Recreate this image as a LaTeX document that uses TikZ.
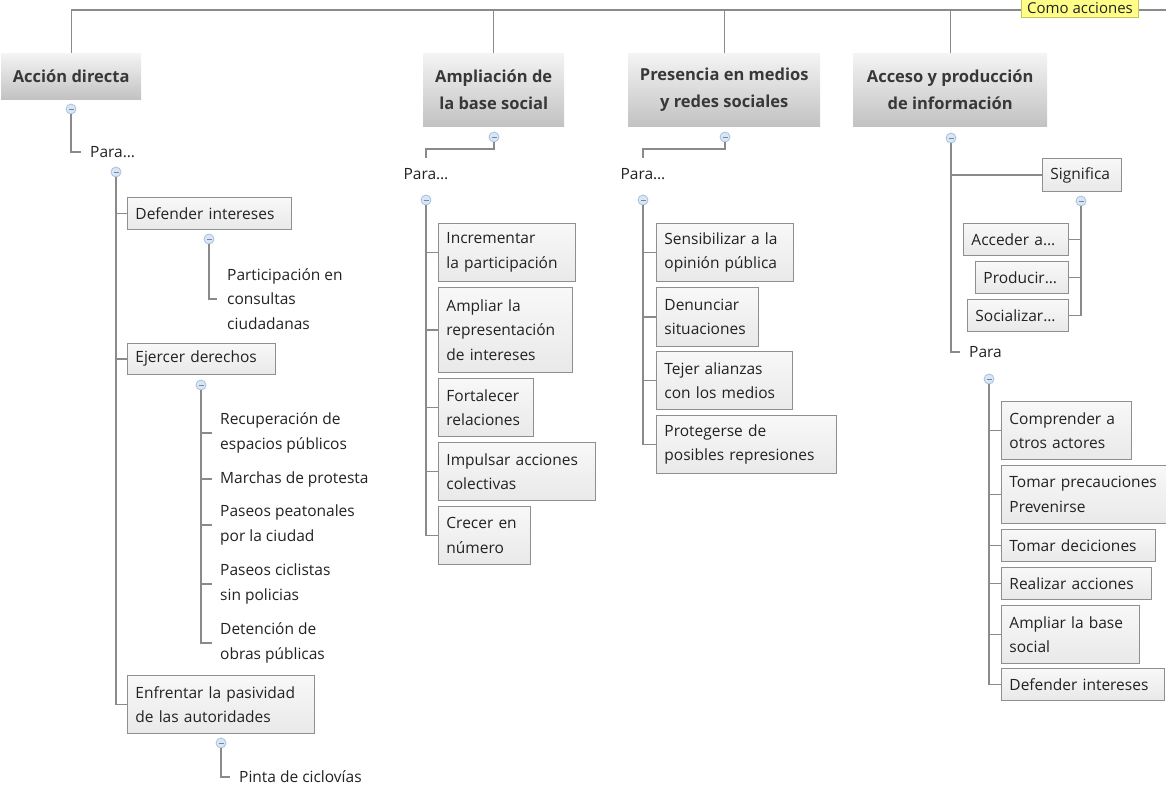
\documentclass[tikz,border=0pt]{standalone}
\usepackage{fontspec}
\setmainfont{Open Sans}
\usetikzlibrary{calc}
\definecolor{ln}{HTML}{8A8A8A}
\definecolor{bx}{HTML}{8F8F8F}
\definecolor{bftop}{HTML}{F8F8F8}
\definecolor{bfbot}{HTML}{E9E9E9}
\definecolor{mtop}{HTML}{F4F4F4}
\definecolor{mbot}{HTML}{C2C2C2}
\definecolor{tx}{HTML}{222222}
\definecolor{tgf}{HTML}{D8E6F6}
\definecolor{tgd}{HTML}{A7C0E0}
\definecolor{yel}{HTML}{FFFF88}
\definecolor{yeld}{HTML}{C9C45A}
\newcommand{\fsreg}{\fontsize{15.5}{24.5}\selectfont}
\newcommand{\fsbold}{\fontsize{16.5}{27}\selectfont\bfseries}
\begin{document}
\begin{tikzpicture}[x=1pt,y=-1pt,
  conn/.style={draw=ln, line width=1.3pt},
  mainbox/.style={anchor=north west, top color=mtop, bottom color=mbot, draw=none, align=center, font=\fsbold, text=tx!90!white, inner sep=0pt},
  sub/.style={anchor=north west, draw=bx, line width=0.9pt, top color=bftop, bottom color=bfbot, inner xsep=8pt, inner ysep=0pt, align=left, font=\fsreg, text=tx},
  plain/.style={anchor=west, inner xsep=9pt, inner ysep=0pt, align=left, font=\fsreg, text=tx},
  para/.style={anchor=north, inner xsep=2pt, inner ysep=10pt, font=\fsreg, text=tx},
  tog/.style={circle, draw=tgd, fill=tgf, line width=0.8pt, minimum size=10pt, inner sep=0pt,
    path picture={\draw[tgd!70!black, line width=0.7pt] ([xshift=-2.5pt]path picture bounding box.center) -- ([xshift=2.5pt]path picture bounding box.center);}},
  como/.style={draw=yeld, fill=yel, line width=0.8pt, inner xsep=6pt, inner ysep=4pt, font=\fontsize{15}{18}\selectfont, text=tx}
]
\useasboundingbox (0,0) rectangle (1166,790);
\clip (0,0) rectangle (1166,790);

% main topics
\node[mainbox, minimum width=140pt, minimum height=46pt] (mA) at (1,53) {Acción directa};
\node[mainbox, minimum width=141pt, minimum height=73pt] (mB) at (423,53) {Ampliación de\\la base social};
\node[mainbox, minimum width=192pt, minimum height=73pt] (mC) at (628,53) {Presencia en medios\\y redes sociales};
\node[mainbox, minimum width=194pt, minimum height=73pt] (mD) at (853,53) {Acceso y producción\\de información};

\coordinate (tR) at (1166,10);
\draw[conn] (mA.north) |- (tR);
\draw[conn] (mB.north) -- (mB.north |- tR);
\draw[conn] (mC.north) -- (mC.north |- tR);
\draw[conn] (mD.north) -- (mD.north |- tR);
\node[como] (como) at (1080,8) {Como acciones};

% toggles under main topics
\node[tog] (tA) at (71,109) {};
\node[tog] (tB) at (494,137) {};
\node[tog] (tC) at (725,137) {};
\node[tog] (tD) at (951,138) {};

% ---------- Acción directa ----------
\node[plain] (pA) at (81,152) {Para…};
\draw[conn] (tA) |- (pA.west);
\node[tog] (tA2) at (116,172) {};
\node[sub, text width=148pt, minimum height=32pt] (dA1) at (127,197) {Defender~intereses};
\node[sub, text width=132pt, minimum height=31pt] (dA2) at (127,343) {Ejercer~derechos};
\node[sub, text width=171pt, minimum height=58pt] (dA3) at (127,675) {Enfrentar~la~pasividad\\de~las~autoridades};
\draw[conn] (tA2) |- (dA1.west);
\draw[conn] (tA2) |- (dA2.west);
\draw[conn] (tA2) |- (dA3.west);

\node[tog] (tA3) at (209,239) {};
\node[plain, inner xsep=10pt] (qA1) at (217,299) {Participación~en\\consultas\\ciudadanas};
\draw[conn] (tA3) |- (qA1.west);

\node[tog] (tA4) at (201,385) {};
\node[plain, inner xsep=8pt] (qA2) at (212,433) {Recuperación~de\\espacios~públicos};
\node[plain, inner xsep=8pt] (qA3) at (212,479) {Marchas~de~protesta};
\node[plain, inner xsep=8pt] (qA4) at (212,525) {Paseos~peatonales\\por~la~ciudad};
\node[plain, inner xsep=8pt] (qA5) at (212,584) {Paseos~ciclistas\\sin~policias};
\node[plain, inner xsep=8pt] (qA6) at (212,643) {Detención~de\\obras~públicas};
\foreach \n in {qA2,qA3,qA4,qA5,qA6} \draw[conn] (tA4) |- (\n.west);

\node[tog] (tA5) at (221,743) {};
\node[plain] (qA7) at (230,777) {Pinta~de~ciclovías};
\draw[conn] (tA5) |- (qA7.west);

% ---------- Ampliación de la base social ----------
\coordinate (kB) at (494,149);
\node[para] (pB) at (426,158) {Para…};
\draw[conn] (tB) -- (kB) -| (pB.north);
\node[tog] (tB2) at (426,200) {};
\node[sub, text width=121pt, minimum height=58pt] (bB1) at (438,223) {Incrementar\\la~participación};
\node[sub, text width=118pt, minimum height=85pt] (bB2) at (438,287) {Ampliar~la\\representación\\de~intereses};
\node[sub, text width=79pt, minimum height=58pt] (bB3) at (438,378) {Fortalecer\\relaciones};
\node[sub, text width=141pt, minimum height=58pt] (bB4) at (438,442) {Impulsar~acciones\\colectivas};
\node[sub, text width=76pt, minimum height=58pt] (bB5) at (438,506) {Crecer~en\\número};
\foreach \n in {bB1,bB2,bB3,bB4,bB5} \draw[conn] (tB2) |- (\n.west);

% ---------- Presencia en medios ----------
\coordinate (kC) at (725,149);
\node[para] (pC) at (643,158) {Para…};
\draw[conn] (tC) -- (kC) -| (pC.north);
\node[tog] (tC2) at (643,200) {};
\node[sub, text width=121pt, minimum height=58pt] (cC1) at (656,223) {Sensibilizar~a~la\\opinión~pública};
\node[sub, text width=86pt, minimum height=59pt] (cC2) at (656,287) {Denunciar\\situaciones};
\node[sub, text width=120pt, minimum height=58pt] (cC3) at (656,351) {Tejer~alianzas\\con~los~medios};
\node[sub, text width=164pt, minimum height=58pt] (cC4) at (656,415) {Protegerse~de\\posibles~represiones};
\foreach \n in {cC1,cC2,cC3,cC4} \draw[conn] (tC2) |- (\n.west);

% ---------- Acceso y producción ----------
\node[sub, text width=63pt, minimum height=33pt] (sig) at (1042,158) {Significa};
\node[plain] (pD) at (960,352) {Para};
\draw[conn] (tD) |- (sig.west);
\draw[conn] (tD) |- (pD.west);

\node[tog] (tD3) at (1081,201) {};
\node[sub, text width=89pt, minimum height=32pt] (sD1) at (963,223) {Acceder~a…};
\node[sub, text width=77pt, minimum height=32pt] (sD2) at (975,261) {Producir…};
\node[sub, text width=85pt, minimum height=32pt] (sD3) at (967,299) {Socializar…};
\foreach \n in {sD1,sD2,sD3} \draw[conn] (tD3) |- (\n.east);

\node[tog] (tD2) at (989,379) {};
\node[sub, text width=114pt, minimum height=58pt] (eD1) at (1001,401) {Comprender~a\\otros~actores};
\node[sub, text width=164pt, minimum height=58pt] (eD2) at (1001,465) {Tomar~precauciones\\Prevenirse};
\node[sub, text width=138pt, minimum height=32pt] (eD3) at (1001,529) {Tomar~deciciones};
\node[sub, text width=134pt, minimum height=32pt] (eD4) at (1001,567) {Realizar~acciones};
\node[sub, text width=122pt, minimum height=58pt] (eD5) at (1001,605) {Ampliar~la~base\\social};
\node[sub, text width=147pt, minimum height=32pt] (eD6) at (1001,668) {Defender~intereses};
\foreach \n in {eD1,eD2,eD3,eD4,eD5,eD6} \draw[conn] (tD2) |- (\n.west);
\end{tikzpicture}
\end{document}
